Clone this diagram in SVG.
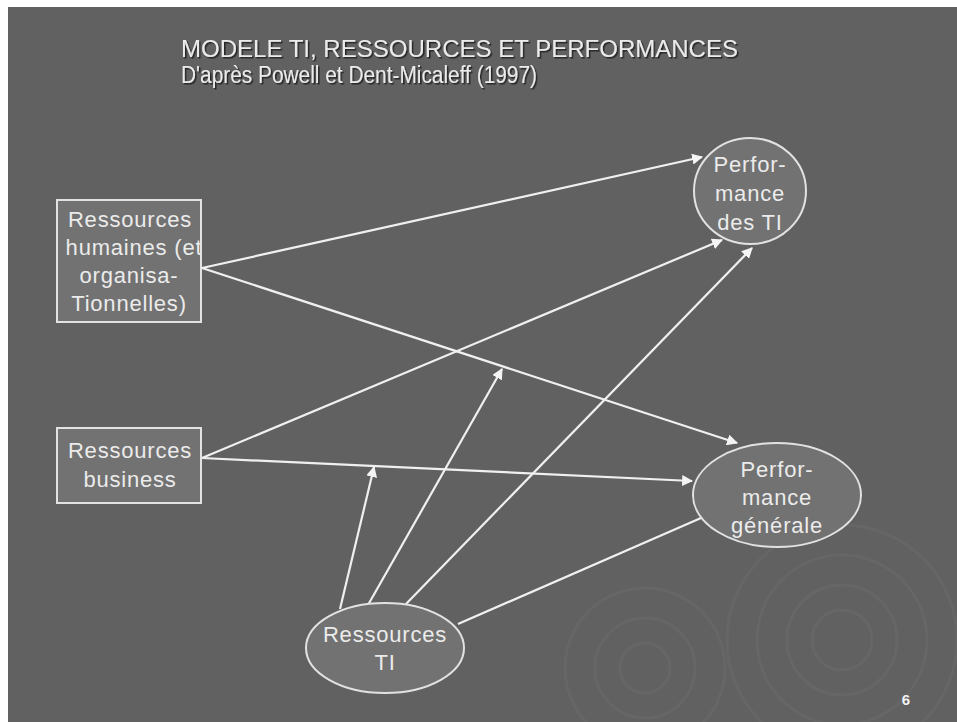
<svg xmlns="http://www.w3.org/2000/svg" width="957" height="722" viewBox="0 0 957 722">
<defs>
<style>
.t{font-family:"Liberation Sans",Arial,sans-serif;fill:#ebebeb}
.title{font-size:23px}
.lbl{font-size:22px;letter-spacing:0.8px;text-anchor:middle}
.node{fill:#727272;stroke:#e2e2e2;stroke-width:2}
.edge{stroke:#f0f0f0;stroke-width:2.2;fill:none}
.ring{fill:none;stroke:#ffffff;stroke-opacity:0.035;stroke-width:3}
</style>
<marker id="ah" viewBox="0 0 10 10" refX="9" refY="5" markerWidth="5" markerHeight="5" markerUnits="strokeWidth" orient="auto">
<path d="M0,0 L10,5 L0,10 z" fill="#f4f4f4"/>
</marker>
<filter id="sh" x="-5%" y="-20%" width="110%" height="150%">
<feDropShadow dx="1.5" dy="1.5" stdDeviation="0.6" flood-color="#1a1a1a" flood-opacity="0.9"/>
</filter>
<clipPath id="c1"><rect x="57" y="200" width="143" height="122"/></clipPath>
</defs>
<rect x="0" y="0" width="957" height="722" fill="#ffffff"/>
<rect x="8" y="7" width="949" height="715" fill="#616161"/>
<g id="bg-rings">
<circle class="ring" cx="842" cy="640" r="30"/>
<circle class="ring" cx="842" cy="640" r="55"/>
<circle class="ring" cx="842" cy="640" r="85"/>
<circle class="ring" cx="842" cy="640" r="115"/>
<circle class="ring" cx="645" cy="668" r="25"/>
<circle class="ring" cx="645" cy="668" r="50"/>
<circle class="ring" cx="645" cy="668" r="80"/>
</g>
<g id="title" filter="url(#sh)">
<text class="t title" x="181" y="57" textLength="557" lengthAdjust="spacingAndGlyphs">MODELE TI, RESSOURCES ET PERFORMANCES</text>
<text class="t title" x="181" y="83" textLength="356" lengthAdjust="spacingAndGlyphs">D'après Powell et Dent-Micaleff (1997)</text>
</g>
<g id="connectors">
<line class="edge" x1="202" y1="268" x2="702" y2="157" marker-end="url(#ah)"/>
<line class="edge" x1="202" y1="268" x2="737" y2="443" marker-end="url(#ah)"/>
<line class="edge" x1="202" y1="458" x2="722" y2="240" marker-end="url(#ah)"/>
<line class="edge" x1="202" y1="458" x2="692" y2="481" marker-end="url(#ah)"/>
<line class="edge" x1="340" y1="609" x2="374" y2="467" marker-end="url(#ah)"/>
<line class="edge" x1="368" y1="605" x2="502" y2="369" marker-end="url(#ah)"/>
<line class="edge" x1="406" y1="604" x2="752" y2="248" marker-end="url(#ah)"/>
<line class="edge" x1="458" y1="624" x2="701" y2="518"/>
</g>
<g id="rh">
<rect class="node" x="57" y="200" width="144" height="122"/>
<g clip-path="url(#c1)">
<text class="t lbl" x="130" y="227">Ressources</text>
<text class="t lbl" x="134" y="255">humaines (et</text>
<text class="t lbl" x="129" y="283">organisa-</text>
<text class="t lbl" x="129" y="311">Tionnelles)</text>
</g>
</g>
<g id="rb">
<rect class="node" x="57" y="428" width="144" height="75"/>
<text class="t lbl" x="130" y="458">Ressources</text>
<text class="t lbl" x="130" y="487">business</text>
</g>
<g id="pti">
<ellipse class="node" cx="750" cy="191" rx="56" ry="53"/>
<text class="t lbl" x="750" y="172">Perfor-</text>
<text class="t lbl" x="750" y="201">mance</text>
<text class="t lbl" x="750" y="230">des TI</text>
</g>
<g id="pg">
<ellipse class="node" cx="777" cy="495" rx="84" ry="52"/>
<text class="t lbl" x="777" y="477">Perfor-</text>
<text class="t lbl" x="777" y="505">mance</text>
<text class="t lbl" x="777" y="533">générale</text>
</g>
<g id="rti">
<ellipse class="node" cx="385" cy="648" rx="79" ry="45"/>
<text class="t lbl" x="385" y="642">Ressources</text>
<text class="t lbl" x="385" y="670">TI</text>
</g>
<text x="906" y="705" font-family="'Liberation Sans',Arial,sans-serif" font-size="15" font-weight="bold" fill="#f4f4f4" text-anchor="middle">6</text>
</svg>
